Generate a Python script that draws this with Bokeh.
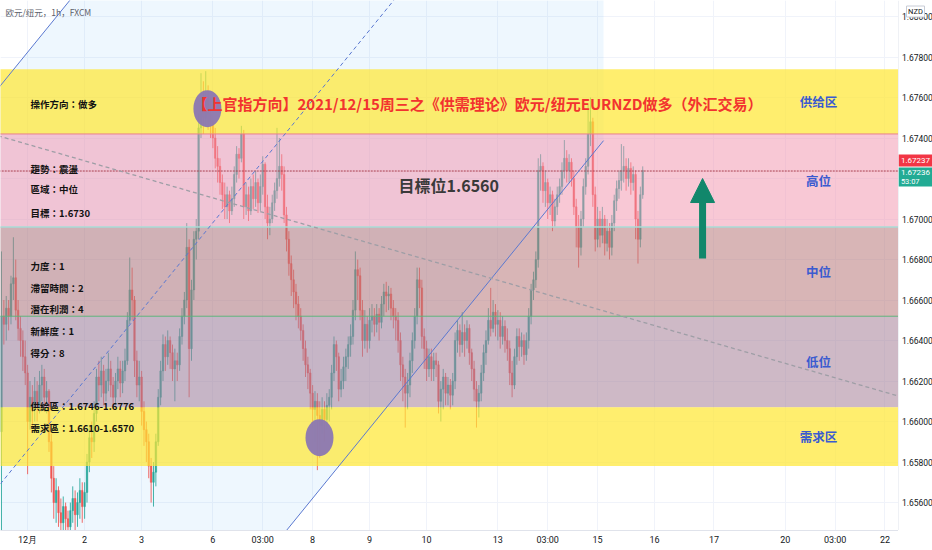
from bokeh.plotting import figure
from bokeh.layouts import row
from bokeh.models import Range1d, FixedTicker, Arrow, NormalHead
from bokeh.core.properties import value
from bokeh.embed import file_html
from bokeh.resources import INLINE

# ---------------- data ----------------
first_open = 1.6595
closes = [1.6652,1.6648,1.6656,1.6652,1.6668,1.6671,1.6655,1.6646,1.6640,1.6632,
1.6624,1.6600,1.6612,1.6606,1.6615,1.6608,1.6618,1.6622,1.6612,1.6615,
1.6590,1.6572,1.6560,1.6566,1.6555,1.6550,1.6558,1.6552,1.6548,1.6556,
1.6562,1.6554,1.6560,1.6566,1.6558,1.6565,1.6580,1.6592,1.6590,1.6604,
1.6622,1.6618,1.6625,1.6614,1.6620,1.6626,1.6618,1.6612,1.6620,1.6626,
1.6619,1.6625,1.6630,1.6650,1.6665,1.6660,1.6630,1.6618,1.6622,1.6605,
1.6596,1.6590,1.6578,1.6570,1.6575,1.6590,1.6612,1.6625,1.6638,1.6632,
1.6640,1.6634,1.6626,1.6630,1.6628,1.6642,1.6652,1.6660,1.6686,1.6636,
1.6665,1.6690,1.6694,1.6745,1.6756,1.6750,1.6760,1.6752,1.6748,1.6740,
1.6730,1.6726,1.6718,1.6712,1.6706,1.6712,1.6704,1.6710,1.6722,1.6732,
1.6730,1.6742,1.6706,1.6712,1.6704,1.6716,1.6710,1.6718,1.6708,1.6716,
1.6727,1.6706,1.6698,1.6700,1.6708,1.6714,1.6720,1.6726,1.6722,1.6702,
1.6690,1.6678,1.6670,1.6664,1.6658,1.6652,1.6645,1.6636,1.6628,1.6624,
1.6614,1.6606,1.6610,1.6603,1.6598,1.6606,1.6601,1.6608,1.6612,1.6624,
1.6638,1.6632,1.6616,1.6620,1.6627,1.6632,1.6638,1.6642,1.6655,1.6675,
1.6672,1.6655,1.6640,1.6648,1.6640,1.6650,1.6652,1.6648,1.6653,1.6649,
1.6658,1.6664,1.6662,1.6663,1.6656,1.6652,1.6650,1.6640,1.6628,1.6622,
1.6614,1.6618,1.6630,1.6640,1.6652,1.6670,1.6666,1.6642,1.6636,1.6626,
1.6632,1.6626,1.6630,1.6628,1.6610,1.6616,1.6622,1.6614,1.6618,1.6613,
1.6620,1.6640,1.6645,1.6638,1.6644,1.6640,1.6646,1.6634,1.6626,1.6616,
1.6610,1.6614,1.6624,1.6634,1.6640,1.6650,1.6646,1.6654,1.6648,1.6650,
1.6642,1.6647,1.6640,1.6636,1.6624,1.6618,1.6632,1.6642,1.6637,1.6640,
1.6633,1.6640,1.6652,1.6665,1.6670,1.6680,1.6724,1.6726,1.6714,1.6718,
1.6708,1.6712,1.6699,1.6706,1.6712,1.6716,1.6724,1.6730,1.6724,1.6728,
1.6720,1.6706,1.6696,1.6686,1.6700,1.6716,1.6726,1.6742,1.6748,1.6712,
1.6690,1.6700,1.6692,1.6700,1.6688,1.6694,1.6686,1.6698,1.6709,1.6715,
1.6719,1.6724,1.6726,1.6720,1.6725,1.6718,1.6722,1.6700,1.6690,1.6712,
1.6724]
highs = [1.6684,1.6660,1.6662,1.6660,1.6672,1.6691,1.6680,1.6660,1.6652,1.6645,
1.6640,1.6628,1.6620,1.6618,1.6622,1.6620,1.6625,1.6628,1.6626,1.6620,
1.6616,1.6594,1.6578,1.6572,1.6568,1.6562,1.6563,1.6560,1.6556,1.6560,
1.6568,1.6566,1.6565,1.6572,1.6570,1.6570,1.6584,1.6598,1.6600,1.6610,
1.6626,1.6630,1.6632,1.6628,1.6626,1.6634,1.6630,1.6622,1.6624,1.6632,
1.6630,1.6630,1.6636,1.6654,1.6681,1.6676,1.6662,1.6635,1.6630,1.6625,
1.6610,1.6600,1.6594,1.6582,1.6580,1.6594,1.6616,1.6630,1.6643,1.6642,
1.6645,1.6642,1.6638,1.6636,1.6634,1.6646,1.6656,1.6664,1.6698,1.6690,
1.6670,1.6694,1.6700,1.6752,1.6772,1.6768,1.6773,1.6766,1.6760,1.6752,
1.6745,1.6736,1.6730,1.6722,1.6718,1.6716,1.6714,1.6716,1.6726,1.6736,
1.6735,1.6746,1.6744,1.6718,1.6716,1.6720,1.6722,1.6724,1.6720,1.6722,
1.6731,1.6728,1.6712,1.6706,1.6712,1.6718,1.6745,1.6740,1.6732,1.6726,
1.6706,1.6694,1.6682,1.6675,1.6668,1.6662,1.6656,1.6648,1.6640,1.6632,
1.6626,1.6618,1.6615,1.6614,1.6610,1.6612,1.6610,1.6614,1.6616,1.6628,
1.6642,1.6640,1.6634,1.6626,1.6632,1.6636,1.6642,1.6648,1.6660,1.6684,
1.6680,1.6676,1.6660,1.6655,1.6652,1.6656,1.6658,1.6656,1.6658,1.6656,
1.6662,1.6668,1.6669,1.6667,1.6666,1.6660,1.6656,1.6654,1.6644,1.6632,
1.6626,1.6624,1.6634,1.6644,1.6656,1.6676,1.6676,1.6670,1.6646,1.6640,
1.6636,1.6636,1.6634,1.6634,1.6630,1.6620,1.6626,1.6624,1.6622,1.6621,
1.6624,1.6644,1.6650,1.6648,1.6654,1.6648,1.6650,1.6648,1.6636,1.6630,
1.6620,1.6618,1.6628,1.6638,1.6645,1.6656,1.6666,1.6660,1.6658,1.6655,
1.6654,1.6652,1.6650,1.6646,1.6640,1.6630,1.6636,1.6646,1.6646,1.6644,
1.6643,1.6644,1.6656,1.6668,1.6674,1.6684,1.6730,1.6732,1.6728,1.6724,
1.6720,1.6716,1.6714,1.6710,1.6716,1.6720,1.6728,1.6739,1.6734,1.6732,
1.6730,1.6724,1.6710,1.6702,1.6704,1.6720,1.6730,1.6757,1.6760,1.6750,
1.6716,1.6706,1.6704,1.6706,1.6702,1.6700,1.6698,1.6702,1.6712,1.6719,
1.6724,1.6737,1.6736,1.6730,1.6730,1.6728,1.6726,1.6724,1.6704,1.6716,
1.6726]
lows = [1.6546,1.6638,1.6640,1.6645,1.6648,1.6660,1.6650,1.6640,1.6632,1.6625,
1.6618,1.6574,1.6596,1.6597,1.6600,1.6600,1.6604,1.6610,1.6607,1.6604,
1.6585,1.6565,1.6552,1.6550,1.6548,1.6544,1.6546,1.6540,1.6538,1.6544,
1.6550,1.6546,1.6548,1.6552,1.6550,1.6552,1.6560,1.6575,1.6582,1.6585,
1.6600,1.6610,1.6612,1.6608,1.6610,1.6615,1.6612,1.6606,1.6608,1.6616,
1.6612,1.6614,1.6620,1.6628,1.6648,1.6650,1.6622,1.6612,1.6610,1.6598,
1.6588,1.6580,1.6572,1.6560,1.6558,1.6568,1.6588,1.6608,1.6620,1.6625,
1.6628,1.6626,1.6620,1.6610,1.6620,1.6625,1.6638,1.6648,1.6656,1.6612,
1.6630,1.6660,1.6680,1.6690,1.6740,1.6742,1.6746,1.6744,1.6740,1.6735,
1.6725,1.6718,1.6712,1.6705,1.6700,1.6700,1.6698,1.6702,1.6706,1.6718,
1.6720,1.6728,1.6700,1.6702,1.6699,1.6702,1.6705,1.6706,1.6703,1.6704,
1.6712,1.6700,1.6690,1.6692,1.6698,1.6704,1.6710,1.6716,1.6714,1.6698,
1.6684,1.6672,1.6662,1.6656,1.6650,1.6646,1.6640,1.6630,1.6622,1.6616,
1.6606,1.6597,1.6590,1.6576,1.6582,1.6594,1.6590,1.6596,1.6600,1.6606,
1.6620,1.6625,1.6610,1.6612,1.6616,1.6620,1.6626,1.6632,1.6638,1.6650,
1.6660,1.6650,1.6632,1.6636,1.6634,1.6636,1.6644,1.6642,1.6644,1.6640,
1.6646,1.6652,1.6654,1.6655,1.6650,1.6646,1.6640,1.6634,1.6620,1.6610,
1.6597,1.6606,1.6612,1.6624,1.6636,1.6648,1.6656,1.6636,1.6626,1.6620,
1.6622,1.6620,1.6620,1.6622,1.6604,1.6600,1.6606,1.6608,1.6608,1.6606,
1.6608,1.6616,1.6634,1.6632,1.6634,1.6632,1.6636,1.6628,1.6620,1.6610,
1.6597,1.6602,1.6610,1.6620,1.6628,1.6638,1.6642,1.6644,1.6642,1.6640,
1.6636,1.6638,1.6634,1.6630,1.6618,1.6612,1.6616,1.6628,1.6630,1.6632,
1.6628,1.6630,1.6636,1.6648,1.6660,1.6666,1.6676,1.6714,1.6708,1.6706,
1.6700,1.6702,1.6694,1.6696,1.6702,1.6708,1.6712,1.6720,1.6718,1.6718,
1.6716,1.6702,1.6686,1.6676,1.6682,1.6696,1.6712,1.6722,1.6736,1.6706,
1.6684,1.6686,1.6686,1.6688,1.6682,1.6684,1.6680,1.6682,1.6694,1.6704,
1.6710,1.6714,1.6718,1.6714,1.6716,1.6712,1.6714,1.6690,1.6678,1.6686,
1.6710]

# time axis (bar index -> label)
day_ticks = [11, 35, 59, 89, 110, 131, 155, 179, 209, 230, 251, 275, 300, 330, 351, 372]
day_labels = ["12月", "2", "3", "6", "03:00", "8", "9", "10", "13", "03:00", "15", "16", "17", "20", "03:00", "22"]
price_ticks = [1.656, 1.658, 1.660, 1.662, 1.664, 1.666, 1.668, 1.670, 1.672, 1.674, 1.676, 1.678, 1.680]
price_labels = ["1.65600", "1.65800", "1.66000", "1.66200", "1.66400", "1.66600", "1.66800",
                "1.67000", "1.67200", "1.67400", "1.67600", "1.67800", "1.68000"]

# supply / demand zones
zone_names = ["供给区", "高位", "中位", "低位", "需求区"]
zone_top = [1.6774, 1.6742, 1.6696, 1.6652, 1.6607]
zone_bottom = [1.6742, 1.6696, 1.6652, 1.6607, 1.6578]

# parallel channel (bar index, price)
chan_x = [-60, 253.5]
chan_upper = [1.66800, 1.71320]
chan_lower = [1.62867, 1.67387]
# dashed trend line
trend_x = [-10, 400]
trend_y = [1.6744, 1.6605]
# marked points (ellipses)
mark_x = [86.7, 133.9]
mark_y = [1.67545, 1.65920]
# arrow
arrow_x = 295.2
arrow_from = 1.66805
arrow_to = 1.67200

last_price = 1.67237
last_label = "1.67237"
bid_label = "1.67236"
countdown = "53:07"
currency = "NZD"

title = "【上官指方向】2021/12/15周三之《供需理论》欧元/纽元EURNZD做多（外汇交易）"
target_text = "目標位1.6560"
info_lines = ["操作方向：做多", "趨勢：震盪", "區域：中位", "目標：1.6730", "力度：1",
              "滯留時間：2", "潛在利潤：4", "新鮮度：1", "得分：8",
              "供給區：1.6746-1.6776", "需求區：1.6610-1.6570"]

# ---------------- main chart ----------------
X0, X1 = -0.42, 377.7
Y0, Y1 = 1.65462, 1.68079
FW, FH = 898, 530
yr = Range1d(Y0, Y1)
p = figure(frame_width=FW, frame_height=FH, x_range=Range1d(X0, X1), y_range=yr,
           output_backend="svg", toolbar_location=None, y_axis_location="right",
           min_border_left=0, min_border_top=0, min_border_right=0, min_border_bottom=0,
           background_fill_color="white", border_fill_color="white")
p.outline_line_color = None
p.yaxis.visible = False

ax = p.xaxis
ax.major_label_text_font_size = "9px"
ax.major_label_text_font = "Roboto"
ax.major_label_text_color = "#131722"
ax.major_tick_line_color = None
ax.minor_tick_line_color = None
ax.major_tick_out = 0
ax.major_tick_in = 0
ax.minor_tick_out = 0
ax.minor_tick_in = 0
ax.axis_line_color = "#e0e3eb"
ax.major_label_standoff = 4
ax.ticker = FixedTicker(ticks=day_ticks)
ax.major_label_overrides = {t: l for t, l in zip(day_ticks, day_labels)}

p.xgrid.grid_line_color = "#f0f3fa"
p.ygrid.grid_line_color = "#f0f3fa"
p.ygrid.ticker = FixedTicker(ticks=price_ticks)

# channel fill
p.patch([chan_x[0], chan_x[1], chan_x[1], chan_x[0]],
        [chan_upper[0], chan_upper[1], chan_lower[1], chan_lower[0]],
        fill_color="#2196f3", fill_alpha=0.08, line_color=None)

# candles
n = len(closes)
idx = list(range(n))
opens = [first_open] + closes[:-1]
up_col, dn_col = "#26a69a", "#ef5350"
cols = [up_col if c >= o else dn_col for o, c in zip(opens, closes)]
hi = [max(h, o, c) for h, o, c in zip(highs, opens, closes)]
lo = [min(l, o, c) for l, o, c in zip(lows, opens, closes)]
p.segment(x0=idx, y0=hi, x1=idx, y1=lo, line_color=cols, line_width=1, line_alpha=0.85)
p.vbar(x=idx, width=0.68, top=[max(o, c) for o, c in zip(opens, closes)],
       bottom=[min(o, c) for o, c in zip(opens, closes)], fill_color=cols, line_color=cols,
       line_width=0.5, fill_alpha=0.9, line_alpha=0.9)

# zones
zone_fill = ["#ffe730", "#f191ab", "#b8787a", "#a68098", "#ffe730"]
zone_alpha = [0.70, 0.50, 0.55, 0.55, 0.70]
p.quad(left=[-10] * 5, right=[400] * 5, top=zone_top, bottom=zone_bottom,
       fill_color=zone_fill, fill_alpha=zone_alpha, line_color=None)
p.segment(x0=[-10] * 3, x1=[400] * 3, y0=[zone_top[1], zone_top[2], zone_top[3]],
          y1=[zone_top[1], zone_top[2], zone_top[3]],
          line_color=["#e9808e", "#a9dcd6", "#5fb37a"], line_width=[1, 1.5, 1])

# current price line
p.line([-10, 400], [last_price, last_price], line_color="#a8404f", line_width=1, line_dash="2 1")

# channel lines
p.line(chan_x, chan_upper, line_color="#5a78d0", line_width=1)
p.line(chan_x, chan_lower, line_color="#5a78d0", line_width=1)
p.line(chan_x, [(a + b) / 2 for a, b in zip(chan_upper, chan_lower)], line_color="#5a78d0",
       line_width=1, line_dash="4 3")
# grey trend line
p.line(trend_x, trend_y, line_color="#9e9ea6", line_width=1.3, line_dash="4 3")

# ellipses
p.ellipse(x=mark_x, y=mark_y, width=28, height=37, width_units="screen", height_units="screen",
          fill_color="#8b77b2", fill_alpha=0.95, line_color=None)

# arrow
ac = "#11876b"
p.add_layout(Arrow(end=NormalHead(size=24, fill_color=ac, line_color=ac),
                   x_start=arrow_x, y_start=arrow_from, x_end=arrow_x, y_end=arrow_to,
                   line_color=ac, line_width=7))

# texts
p.text(x=[80.4], y=[1.6757], text=[title], text_font=value("Noto Sans CJK SC"), text_font_size="15px",
       text_font_style="bold", text_color="#f2332f", text_baseline="middle")
p.text(x=[167.2], y=[1.6717], text=[target_text], text_font=value("Noto Sans CJK TC"),
       text_font_size="16px", text_font_style="bold", text_color="#3a3a3a", text_baseline="middle")
info_y = [1.67570, 1.67249, 1.67146, 1.67032, 1.66770, 1.66661, 1.66558, 1.66449, 1.66340, 1.66079, 1.65970]
p.text(x=[12.2] * len(info_lines), y=info_y, text=info_lines, text_font=value("Noto Sans CJK TC"),
       text_font_size="9.5px", text_font_style="bold", text_color="#111111", text_baseline="middle")
p.text(x=[344] * 5, y=[(a + b) / 2 for a, b in zip(zone_top, zone_bottom)], text=zone_names,
       text_font=value("Noto Sans CJK SC"), text_font_size="12.5px", text_font_style="bold",
       text_color="#3a5bd0", text_align="center", text_baseline="middle")
p.text(x=[1.7], y=[1.6802], text=["欧元/纽元，1h，FXCM"], text_font=value("Noto Sans CJK SC"),
       text_font_size="8.5px", text_color="#5d606b", text_baseline="middle")

# ---------------- price scale strip ----------------
SW = 34
s = figure(frame_width=SW, frame_height=FH, x_range=Range1d(0, 1), y_range=yr,
           output_backend="svg", toolbar_location=None, x_axis_location=None, y_axis_location=None,
           min_border_left=0, min_border_top=0, min_border_right=0, min_border_bottom=0,
           background_fill_color="white", border_fill_color="white")
s.outline_line_color = None
s.xgrid.visible = False
s.ygrid.visible = False
ppx = (Y1 - Y0) / FH
s.segment(x0=[0.0], x1=[0.0], y0=[Y0], y1=[Y1], line_color="#e0e3eb", line_width=1)
s.text(x=[0.1] * len(price_ticks), y=price_ticks, text=price_labels, text_font=value("Roboto"),
       text_font_size="8.5px", text_color="#131722", text_baseline="middle")
# last price / bid badges
s.rect(x=[0.5], y=[last_price + 10.5 * ppx], width=[1.0], height=[12], height_units="screen",
       fill_color="#f23645", line_color=None)
s.rect(x=[0.5], y=[last_price - 6 * ppx], width=[1.0], height=[19], height_units="screen",
       fill_color="#22ab94", line_color=None)
s.text(x=[0.07], y=[last_price], y_offset=[-10.5], text=[last_label], text_font=value("Roboto"),
       text_font_size="8px", text_color="white", text_baseline="middle")
s.text(x=[0.07], y=[last_price], y_offset=[1.5], text=[bid_label], text_font=value("Roboto"),
       text_font_size="8px", text_color="white", text_baseline="middle")
s.text(x=[0.07], y=[last_price], y_offset=[10.5], text=[countdown], text_font=value("Roboto"),
       text_font_size="7.5px", text_color="white", text_baseline="middle")
# currency box
s.rect(x=[0.5], y=[Y1 - 11 * ppx], width=[18], height=[11], width_units="screen", height_units="screen",
       fill_color="white", line_color="#c8ccd6", line_width=1)
s.text(x=[0.5], y=[Y1 - 11 * ppx], text=[currency], text_font=value("Roboto"), text_font_size="7.5px",
       text_color="#131722", text_align="center", text_baseline="middle")

layout = row(p, s)
open("out.html", "w").write(file_html(layout, INLINE))
